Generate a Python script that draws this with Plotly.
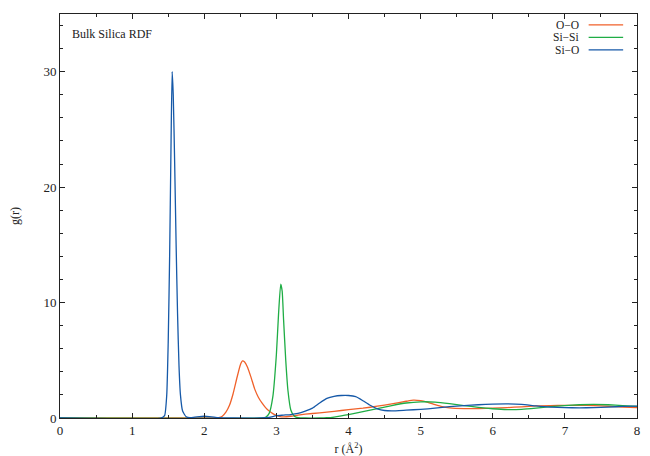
import plotly.graph_objects as go

# ---------------- data ----------------
r_oo = [0.0, 2.10, 2.15, 2.20, 2.25, 2.30, 2.35, 2.40, 2.45, 2.50, 2.53, 2.56, 2.60, 2.65,
        2.70, 2.75, 2.80, 2.85, 2.90, 2.95, 3.00, 3.05, 3.10, 3.20, 3.30, 3.40, 3.60,
        3.80, 4.00, 4.20, 4.40, 4.60, 4.80, 4.90, 5.00, 5.10, 5.20, 5.30, 5.40, 5.60,
        5.80, 6.00, 6.20, 6.40, 6.60, 6.80, 7.00, 7.20, 7.40, 7.60, 7.80, 8.00]
g_oo = [0.0, 0.0, 0.0, 0.03, 0.15, 0.5, 1.1, 2.1, 3.4, 4.6, 4.95, 4.85, 4.4, 3.5,
        2.5, 1.8, 1.3, 0.9, 0.6, 0.38, 0.22, 0.12, 0.1, 0.15, 0.25, 0.33, 0.45,
        0.58, 0.72, 0.85, 1.02, 1.22, 1.45, 1.55, 1.5, 1.35, 1.15, 0.98, 0.88, 0.82,
        0.82, 0.85, 0.9, 0.97, 1.05, 1.08, 1.1, 1.1, 1.08, 1.02, 0.95, 0.9]

r_sisi = [0.0, 2.80, 2.85, 2.90, 2.95, 3.00, 3.03, 3.06, 3.08, 3.10, 3.13, 3.16, 3.20,
          3.25, 3.30, 3.40, 3.60, 3.70, 3.80, 3.90, 4.00, 4.20, 4.40, 4.60, 4.80, 5.00,
          5.20, 5.40, 5.60, 5.80, 6.00, 6.20, 6.40, 6.60, 6.80, 7.00, 7.20, 7.40, 7.60,
          7.80, 8.00]
g_sisi = [0.0, 0.0, 0.05, 0.4, 1.8, 5.5, 9.0, 11.6, 11.0, 8.5, 5.0, 2.4, 0.7,
          0.15, 0.03, 0.0, 0.0, 0.02, 0.08, 0.18, 0.3, 0.55, 0.82, 1.08, 1.3, 1.4,
          1.38, 1.25, 1.08, 0.92, 0.8, 0.73, 0.75, 0.85, 0.98, 1.08, 1.15, 1.18, 1.15,
          1.08, 1.0]

r_sio = [0.0, 1.40, 1.45, 1.48, 1.50, 1.52, 1.54, 1.555, 1.57, 1.59, 1.61, 1.63, 1.65,
         1.67, 1.70, 1.75, 1.80, 1.90, 2.00, 2.10, 2.20, 2.40, 2.80, 2.90, 3.00, 3.10,
         3.20, 3.30, 3.40, 3.50, 3.60, 3.70, 3.80, 3.90, 4.00, 4.10, 4.20, 4.30, 4.40,
         4.50, 4.60, 4.80, 5.00, 5.20, 5.40, 5.60, 5.80, 6.00, 6.20, 6.40, 6.60, 6.80,
         7.00, 7.20, 7.40, 7.60, 7.80, 8.00]
g_sio = [0.0, 0.0, 0.2, 2.0, 6.5, 14.0, 24.0, 30.0, 28.0, 22.0, 15.0, 9.0, 4.5,
         2.0, 0.6, 0.1, 0.02, 0.1, 0.15, 0.1, 0.02, 0.0, 0.0, 0.05, 0.2, 0.25,
         0.3, 0.4, 0.6, 0.85, 1.3, 1.7, 1.88, 1.95, 1.95, 1.85, 1.5, 1.1, 0.8,
         0.65, 0.62, 0.68, 0.75, 0.85, 0.98, 1.08, 1.15, 1.2, 1.22, 1.18, 1.05, 0.95,
         0.9, 0.88, 0.9, 0.95, 1.0, 1.03]

series = [
    ("O\u2212O", r_oo, g_oo, "#f0612a"),
    ("Si\u2212Si", r_sisi, g_sisi, "#1fad45"),
    ("Si\u2212O", r_sio, g_sio, "#1659a8"),
]

x_ticks = [0, 1, 2, 3, 4, 5, 6, 7, 8]
y_ticks = [0, 10, 20, 30]

FONT = "Liberation Serif, Times New Roman, serif"

fig = go.Figure()
for name, rx, gy, col in series:
    fig.add_trace(go.Scatter(x=rx, y=gy, mode="lines", name=name,
                             line=dict(color=col, width=1.3, shape="spline", smoothing=0.5),
                             showlegend=False, cliponaxis=False))

# manual gnuplot-style legend: text right-aligned, sample line to the right
for i, (name, rx, gy, col) in enumerate(series):
    yy = 0.973 - i * 0.031
    fig.add_annotation(xref="paper", yref="paper", x=0.9026, y=yy, text=name,
                       showarrow=False, xanchor="right", yanchor="middle",
                       font=dict(family=FONT, size=11.5, color="#222"))
    fig.add_shape(type="line", xref="paper", yref="paper", x0=0.9162, x1=0.976,
                  y0=yy, y1=yy, line=dict(color=col, width=1.3))

fig.add_annotation(xref="paper", yref="paper", x=0.0171, y=0.95, text="Bulk Silica RDF",
                   showarrow=False, xanchor="left", yanchor="middle",
                   font=dict(family=FONT, size=12, color="#222"))

axis_common = dict(showgrid=False, zeroline=False, showline=True, linecolor="#222",
                   linewidth=1, mirror="allticks", ticks="inside", ticklen=5,
                   tickcolor="#222", automargin=False,
                   tickfont=dict(family=FONT, size=13, color="#222"))

fig.update_xaxes(range=[0, 8], tickvals=x_ticks,
                 minor=dict(dtick=0.5, ticks="inside", ticklen=3, tickcolor="#222"),
                 title=dict(text="r (\u00c5<sup>2</sup>)", font=dict(family=FONT, size=12, color="#222"),
                            standoff=8),
                 **axis_common)
fig.update_yaxes(range=[0, 35], tickvals=y_ticks,
                 minor=dict(dtick=2, ticks="inside", ticklen=3, tickcolor="#222"),
                 title=dict(text="g(r)", font=dict(family=FONT, size=12, color="#222"),
                            standoff=26),
                 **axis_common)

# the page body has an 8px margin, so the figure is offset by 8px; size and margins compensate
fig.update_layout(width=642, height=448,
                  margin=dict(l=52, r=13, t=6, b=38),
                  plot_bgcolor="white", paper_bgcolor="white",
                  font=dict(family=FONT, size=12, color="#222"))

fig.write_html("out.html")
